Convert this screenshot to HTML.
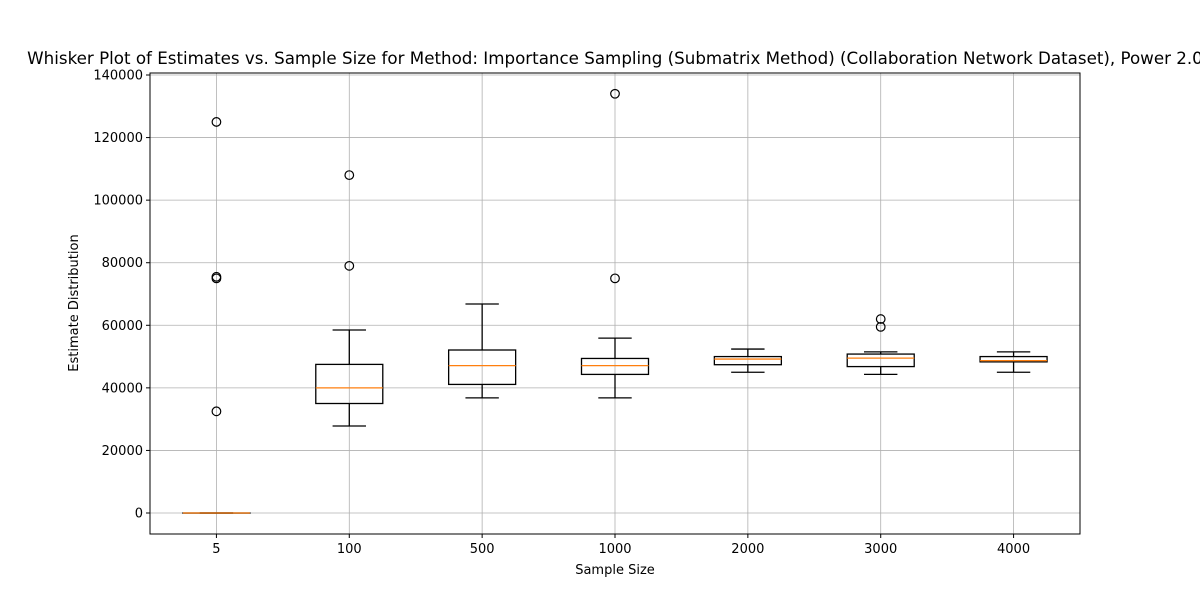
<!DOCTYPE html>
<html><head><meta charset="utf-8"><style>body{margin:0;background:#fff}svg{display:block;font-family:"DejaVu Sans","Liberation Sans",sans-serif}</style></head>
<body>
<svg id="c" width="1200" height="600"></svg>
<script>
const categories=["5","100","500","1000","2000","3000","4000"];
const whiskLow=[0,27800,36800,36800,45000,44300,45000];
const q1=[0,35000,41100,44300,47400,46800,48300];
const medians=[0,40000,47100,47100,49200,49500,48700];
const q3=[0,47500,52100,49400,50000,50800,50000];
const whiskHigh=[0,58500,66800,55900,52400,51500,51500];
const outliers=[[125000,75500,75000,32500],[108000,79000],[],[134000,75000],[],[62000,59500],[]];
const yTicks=[0,20000,40000,60000,80000,100000,120000,140000];
const L=150,R=1080,T=73,B=534,yMin=-6712,yMax=140640;
const xs=i=>L+(i+0.5)*(R-L)/categories.length;
const ys=v=>B-(v-yMin)/(yMax-yMin)*(B-T);
const svg=document.getElementById('c');const NS="http://www.w3.org/2000/svg";
function mk(t,a,p){const e=document.createElementNS(NS,t);for(const k in a)e.setAttribute(k,a[k]);(p||svg).appendChild(e);return e;}
mk('rect',{x:L,y:T,width:R-L,height:B-T,fill:'#fff'});
yTicks.forEach(v=>{const y=ys(v);
 const g=mk('line',{x1:L,x2:R,y1:y,y2:y,stroke:'#b0b0b0','stroke-width':0.8});
 
 mk('line',{x1:L-4,x2:L,y1:y,y2:y,stroke:'#000'});
 const t=mk('text',{x:L-7,y:y+4.5,'text-anchor':'end','font-size':13});t.textContent=v;
 });
categories.forEach((c,i)=>{const x=xs(i);
 const g=mk('line',{x1:x,x2:x,y1:T,y2:B,stroke:'#b0b0b0','stroke-width':0.8});
 
 mk('line',{x1:x,x2:x,y1:B,y2:B+4,stroke:'#000'});
 const t=mk('text',{x:x,y:B+19,'text-anchor':'middle','font-size':13});t.textContent=c;
 });
categories.forEach((c,i)=>{const x=xs(i),hw=33.5,cw=16.7;
 const g=mk('g',{});
 mk('line',{x1:x,x2:x,y1:ys(whiskLow[i]),y2:ys(q1[i]),stroke:'#000','stroke-width':1.3},g);
 mk('line',{x1:x,x2:x,y1:ys(q3[i]),y2:ys(whiskHigh[i]),stroke:'#000','stroke-width':1.3},g);
 mk('line',{x1:x-cw,x2:x+cw,y1:ys(whiskLow[i]),y2:ys(whiskLow[i]),stroke:'#000','stroke-width':1.3},g);
 mk('line',{x1:x-cw,x2:x+cw,y1:ys(whiskHigh[i]),y2:ys(whiskHigh[i]),stroke:'#000','stroke-width':1.3},g);
 mk('rect',{x:x-hw,y:ys(q3[i]),width:2*hw,height:Math.max(0.1,ys(q1[i])-ys(q3[i])),fill:'none',stroke:'#000','stroke-width':1.3},g);
 mk('line',{x1:x-hw,x2:x+hw,y1:ys(medians[i]),y2:ys(medians[i]),stroke:'#ff7f0e','stroke-width':1.3},g);
 outliers[i].forEach(v=>{const o=mk('circle',{cx:x,cy:ys(v),r:4.3,fill:'none',stroke:'#000','stroke-width':1.2},g);
  });});
const fr=mk('rect',{x:L,y:T,width:R-L,height:B-T,fill:'none',stroke:'#000','stroke-width':1});

let t=mk('text',{x:615,y:64,'text-anchor':'middle','font-size':16.7});t.textContent="Whisker Plot of Estimates vs. Sample Size for Method: Importance Sampling (Submatrix Method) (Collaboration Network Dataset), Power 2.0";

t=mk('text',{x:615,y:574,'text-anchor':'middle','font-size':13});t.textContent="Sample Size";

t=mk('text',{x:78,y:303,'text-anchor':'middle','font-size':13,transform:'rotate(-90 78 303)'});t.textContent="Estimate Distribution";

</script>
</body></html>
